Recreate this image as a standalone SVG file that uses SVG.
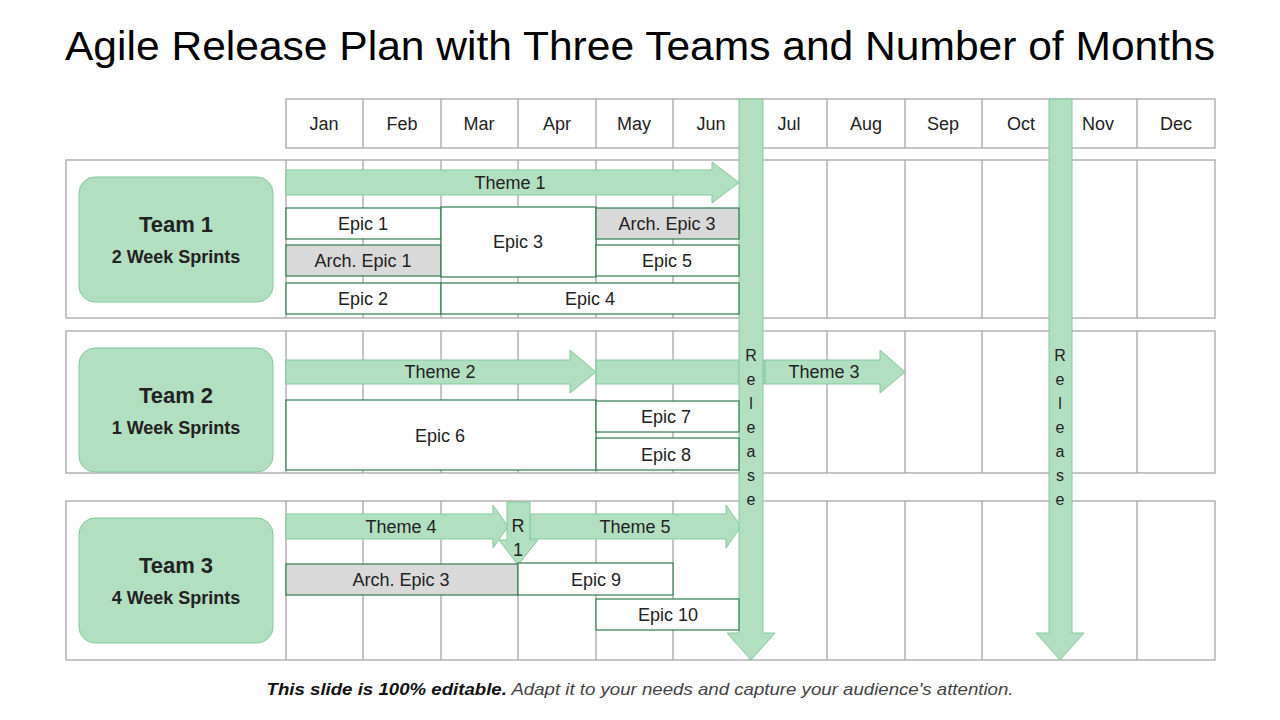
<svg xmlns="http://www.w3.org/2000/svg" width="1280" height="720" viewBox="0 0 1280 720">
<defs><style>
text{font-family:"Liberation Sans",Arial,sans-serif;fill:#222}
.g{stroke:#a6a6a6;stroke-width:1.3;fill:none}
.ar{fill:#b3dfc1;stroke:#82c99c;stroke-width:1}
.ep{fill:#fff;stroke:#2e7d4a;stroke-width:1.2}
.gr{fill:#d9d9d9;stroke:#2e7d4a;stroke-width:1.2}
.t{font-size:18px;text-anchor:middle}
.tm{fill:#b3dfc1;stroke:#82c99c}
</style></defs>
<rect width="1280" height="720" fill="#fff"/>
<text x="640" y="60" font-size="41" text-anchor="middle" fill="#000" style="fill:#000" textLength="1150" lengthAdjust="spacingAndGlyphs">Agile Release Plan with Three Teams and Number of Months</text>
<g id="grid" class="g">
<rect x="286" y="99" width="929" height="49"/>
<rect x="66" y="160" width="1149" height="158"/>
<rect x="66" y="331" width="1149" height="142"/>
<rect x="66" y="501" width="1149" height="159"/>
<path d="M363 99V148M441 99V148M518 99V148M596 99V148M673 99V148M750 99V148M827 99V148M905 99V148M982 99V148M1060 99V148M1137 99V148"/>
<path d="M286 160V318M363 160V318M441 160V318M518 160V318M596 160V318M673 160V318M750 160V318M827 160V318M905 160V318M982 160V318M1060 160V318M1137 160V318"/>
<path d="M286 331V473M363 331V473M441 331V473M518 331V473M596 331V473M673 331V473M750 331V473M827 331V473M905 331V473M982 331V473M1060 331V473M1137 331V473"/>
<path d="M286 501V660M363 501V660M441 501V660M518 501V660M596 501V660M673 501V660M750 501V660M827 501V660M905 501V660M982 501V660M1060 501V660M1137 501V660"/>
</g>
<g id="months" font-size="18">
<text class="t" x="324" y="130">Jan</text><text class="t" x="402" y="130">Feb</text><text class="t" x="479" y="130">Mar</text><text class="t" x="557" y="130">Apr</text><text class="t" x="634" y="130">May</text><text class="t" x="711" y="130">Jun</text><text class="t" x="789" y="130">Jul</text><text class="t" x="866" y="130">Aug</text><text class="t" x="943" y="130">Sep</text><text class="t" x="1021" y="130">Oct</text><text class="t" x="1098" y="130">Nov</text><text class="t" x="1176" y="130">Dec</text>
</g>
<g id="team1"><rect class="tm" x="79" y="177" width="194" height="125" rx="16"/><text x="176" y="232" font-size="22" font-weight="bold" text-anchor="middle">Team 1</text><text x="176" y="263" font-size="18" font-weight="bold" text-anchor="middle">2 Week Sprints</text></g>
<g id="team2"><rect class="tm" x="79" y="348" width="194" height="124" rx="16"/><text x="176" y="403" font-size="22" font-weight="bold" text-anchor="middle">Team 2</text><text x="176" y="434" font-size="18" font-weight="bold" text-anchor="middle">1 Week Sprints</text></g>
<g id="team3"><rect class="tm" x="79" y="518" width="194" height="125" rx="16"/><text x="176" y="573" font-size="22" font-weight="bold" text-anchor="middle">Team 3</text><text x="176" y="604" font-size="18" font-weight="bold" text-anchor="middle">4 Week Sprints</text></g>
<g id="connectors">
<path class="ar" d="M286 170H712V162L739 182.5L712 203V195H286Z"/>
<path class="ar" d="M286 360H570V350L596 372L570 393V384H286Z"/>
<path class="ar" d="M596 360H765V384H596Z"/>
<path class="ar" d="M765 360H880V350L905 372L880 393V384H765Z"/>
<path class="ar" d="M286 514H493V505L508 526.5L493 548V539H286Z"/>
<path class="ar" d="M530 514H726V505L741 526.5L726 548V539H530Z"/>
<path class="ar" d="M507 502H530V540H538L518 565L499 540H507Z"/>
<path class="ar" d="M739 99H763V633H775L751 660L727 633H739Z"/>
<path class="ar" d="M1049 99H1072V633H1084L1060 660L1036 633H1049Z"/>
</g>
<g id="labels" font-size="18">
<text class="t" x="510" y="189">Theme 1</text>
<text class="t" x="440" y="378">Theme 2</text>
<text class="t" x="824" y="378">Theme 3</text>
<text class="t" x="401" y="533">Theme 4</text>
<text class="t" x="635" y="533">Theme 5</text>
<text class="t" x="518" y="532">R</text><text class="t" x="518" y="556">1</text>
<g><text class="t" style="font-size:16px" x="751" y="361">R</text><text class="t" style="font-size:16px" x="751" y="385">e</text><text class="t" style="font-size:16px" x="751" y="409">l</text><text class="t" style="font-size:16px" x="751" y="433">e</text><text class="t" style="font-size:16px" x="751" y="457">a</text><text class="t" style="font-size:16px" x="751" y="481">s</text><text class="t" style="font-size:16px" x="751" y="505">e</text>
<text class="t" style="font-size:16px" x="1060" y="361">R</text><text class="t" style="font-size:16px" x="1060" y="385">e</text><text class="t" style="font-size:16px" x="1060" y="409">l</text><text class="t" style="font-size:16px" x="1060" y="433">e</text><text class="t" style="font-size:16px" x="1060" y="457">a</text><text class="t" style="font-size:16px" x="1060" y="481">s</text><text class="t" style="font-size:16px" x="1060" y="505">e</text></g>
</g>
<g id="epics">
<rect class="ep" x="286" y="208" width="155" height="31"/><text class="t" x="363" y="230">Epic 1</text>
<rect class="gr" x="286" y="245" width="155" height="31"/><text class="t" x="363" y="267">Arch. Epic 1</text>
<rect class="ep" x="286" y="283" width="155" height="31"/><text class="t" x="363" y="305">Epic 2</text>
<rect class="ep" x="441" y="207" width="155" height="70" stroke="#222"/><text class="t" x="518" y="248">Epic 3</text>
<rect class="gr" x="596" y="208" width="143" height="31"/><text class="t" x="667" y="230">Arch. Epic 3</text>
<rect class="ep" x="596" y="245" width="143" height="31"/><text class="t" x="667" y="267">Epic 5</text>
<rect class="ep" x="441" y="283" width="298" height="31"/><text class="t" x="590" y="305">Epic 4</text>
<rect class="ep" x="286" y="400" width="310" height="70"/><text class="t" x="440" y="442">Epic 6</text>
<rect class="ep" x="596" y="401" width="143" height="31"/><text class="t" x="666" y="423">Epic 7</text>
<rect class="ep" x="596" y="438" width="143" height="32"/><text class="t" x="666" y="461">Epic 8</text>
<rect class="gr" x="286" y="564" width="232" height="31"/><text class="t" x="401" y="586">Arch. Epic 3</text>
<rect class="ep" x="518" y="563" width="155" height="32"/><text class="t" x="596" y="586">Epic 9</text>
<rect class="ep" x="596" y="599" width="143" height="31"/><text class="t" x="668" y="621">Epic 10</text>
</g>
<text x="640" y="695" font-size="17" font-style="italic" text-anchor="middle" textLength="747" lengthAdjust="spacingAndGlyphs"><tspan font-weight="bold" fill="#111">This slide is 100% editable.</tspan><tspan fill="#444"> Adapt it to your needs and capture your audience's attention.</tspan></text>
</svg>
